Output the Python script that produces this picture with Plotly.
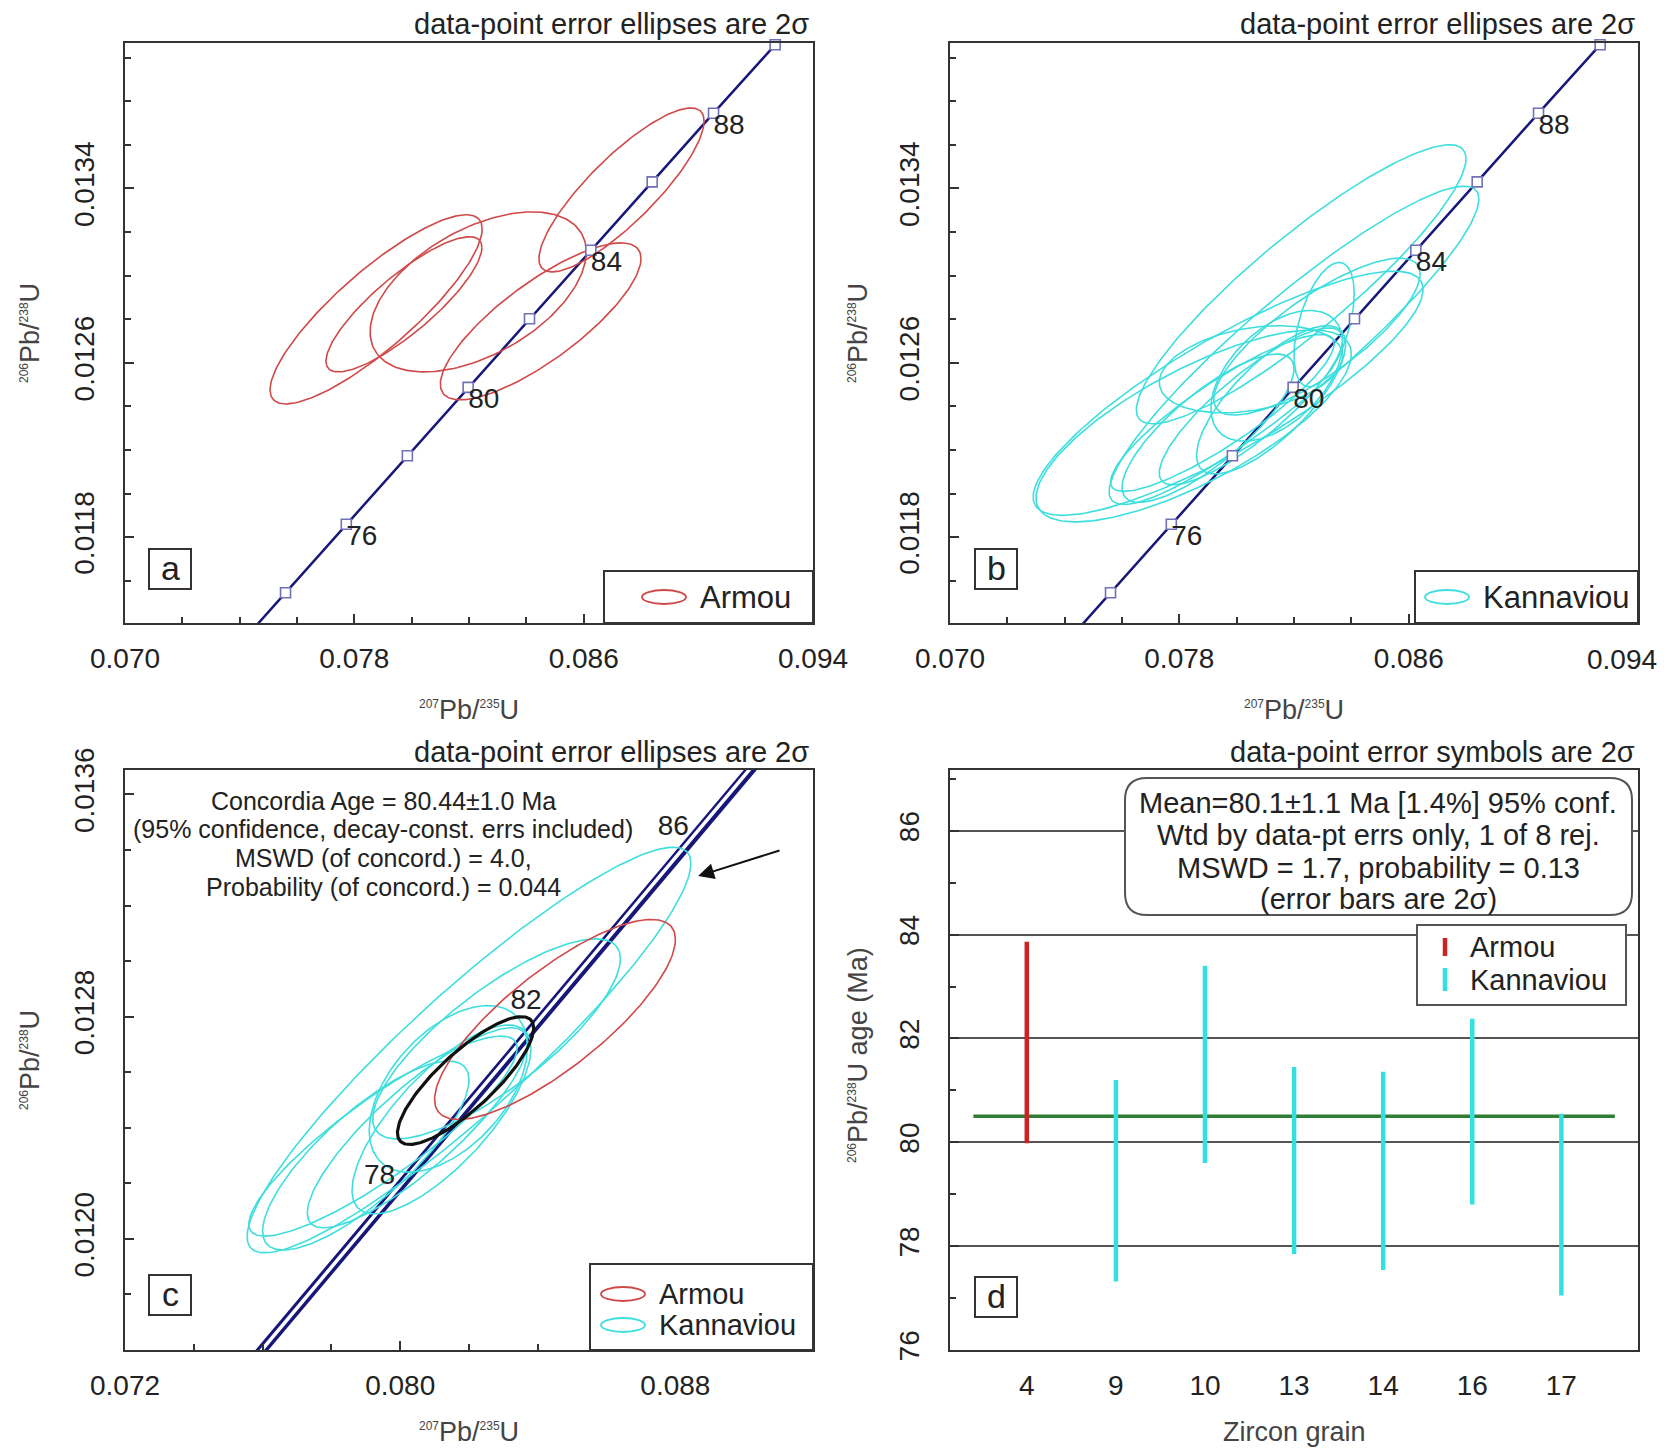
import numpy as np
import plotly.graph_objects as go

W, H = 1665, 1450
FONT = "Liberation Sans, Arial, Helvetica, sans-serif"

# ---------------- data ----------------
# concordia points (age in Ma, 207Pb/235U, 206Pb/238U)
conc_age = [72, 74, 76, 78, 80, 82, 84, 86, 88, 90, 92]
conc_x207 = [0.07348, 0.07560, 0.07772, 0.07985, 0.08197, 0.08411, 0.08625, 0.08839, 0.09053, 0.09268, 0.09484]
conc_y206 = [0.011232, 0.011545, 0.011859, 0.012173, 0.012487, 0.012802, 0.013116, 0.013430, 0.013745, 0.014059, 0.014374]
marker_ages = [74, 76, 78, 80, 82, 84, 86, 88, 90]
label_ages_ab = [76, 80, 84, 88]
label_ages_c = [78, 82, 86]

# tick labels
x_ticks_ab = [0.070, 0.078, 0.086, 0.094]
x_ticks_c = [0.072, 0.080, 0.088]

# Armou error ellipses (panel a): centre, 2-sigma half widths, correlation
armou_cx = [0.07876, 0.07973, 0.08232, 0.08732, 0.08450]
armou_cy = [0.012845, 0.012868, 0.012925, 0.013393, 0.012790]
armou_hx = [0.00370, 0.00272, 0.00377, 0.00288, 0.00350]
armou_hy = [0.000434, 0.000310, 0.000367, 0.000376, 0.000360]
armou_rho = [0.85, 0.84, 0.50, 0.84, 0.80]
armou_in_c = [4]          # index of the Armou ellipse used in panel c

# Kannaviou error ellipses (panel b)
kann_cx = [0.08200, 0.08280, 0.08140, 0.07950, 0.07900, 0.08050, 0.08120, 0.08225, 0.07970, 0.07850, 0.08050, 0.08305]
kann_cy = [0.012680, 0.012720, 0.012540, 0.012370, 0.012300, 0.012400, 0.012430, 0.012960, 0.012460, 0.012310, 0.012570, 0.012775]
kann_hx = [0.00645, 0.00360, 0.00230, 0.00390, 0.00300, 0.00320, 0.00260, 0.00575, 0.00680, 0.00550, 0.00320, 0.00105]
kann_hy = [0.00073, 0.00036, 0.00030, 0.00036, 0.00034, 0.00036, 0.00034, 0.00064, 0.00056, 0.00044, 0.00020, 0.000285]
kann_rho = [0.92, 0.80, 0.50, 0.88, 0.80, 0.85, 0.75, 0.90, 0.85, 0.75, 0.30, 0.50]
kann_in_c = [0, 1, 2, 3, 4, 5, 6]

# concordia age ellipse (panel c)
cage_cx, cage_cy, cage_hx, cage_hy, cage_rho = 0.08190, 0.012570, 0.00198, 0.000230, 0.82

# weighted mean panel d
grains = ["4", "9", "10", "13", "14", "16", "17"]
grain_unit = ["Armou", "Kannaviou", "Kannaviou", "Kannaviou", "Kannaviou", "Kannaviou", "Kannaviou"]
age_mid = [81.92, 79.26, 81.50, 79.65, 79.45, 80.59, 78.80]
age_err = [1.94, 1.94, 1.90, 1.80, 1.91, 1.79, 1.75]
mean_line_age = 80.5

# ---------------- styles ----------------
RED = "#d04848"
CYAN = "#3edede"
NAVY = "#17177a"
TXT = "#222222"
FRAME = "#333333"


def ell(cx, cy, hx, hy, r, n=200):
    t = np.linspace(0, 2 * np.pi, n)
    x = cx + hx * np.cos(t)
    y = cy + hy * (r * np.cos(t) + np.sqrt(1 - r * r) * np.sin(t))
    return list(x), list(y)


def ell_group(idx, cx, cy, hx, hy, rho):
    xs, ys = [], []
    for i in idx:
        x, y = ell(cx[i], cy[i], hx[i], hy[i], rho[i])
        xs += x + [None]
        ys += y + [None]
    return xs, ys


def px(x):
    return x / W


def py(y):
    return 1 - y / H


fig = go.Figure()

# frames in pixels: a,c left=125..813 ; b,d 950..1638 ; rows 43..623 / 770..1350
dom_x_left = [px(125), px(813)]
dom_x_right = [px(950), px(1638)]
dom_y_top = [py(623), py(43)]
dom_y_bot = [py(1350), py(770)]

m_idx = [conc_age.index(a) for a in marker_ages]
l_idx_ab = [conc_age.index(a) for a in label_ages_ab]
l_idx_c = [conc_age.index(a) for a in label_ages_c]

# ---- panels a and b ----
for xa, ya, grp in [("x", "y", "a"), ("x2", "y2", "b")]:
    fig.add_trace(go.Scatter(x=conc_x207, y=conc_y206, mode="lines", line=dict(color=NAVY, width=2.5),
                             xaxis=xa, yaxis=ya, showlegend=False, hoverinfo="skip"))
    if grp == "a":
        ex, ey = ell_group(range(len(armou_cx)), armou_cx, armou_cy, armou_hx, armou_hy, armou_rho)
        col = RED
    else:
        ex, ey = ell_group(range(len(kann_cx)), kann_cx, kann_cy, kann_hx, kann_hy, kann_rho)
        col = CYAN
    fig.add_trace(go.Scatter(x=ex, y=ey, mode="lines", line=dict(color=col, width=1.6),
                             xaxis=xa, yaxis=ya, showlegend=False, hoverinfo="skip"))
    fig.add_trace(go.Scatter(x=[conc_x207[i] for i in m_idx], y=[conc_y206[i] for i in m_idx], mode="markers",
                             marker=dict(symbol="square", size=10, color="white",
                                         line=dict(color="#7070b8", width=1.6)),
                             xaxis=xa, yaxis=ya, showlegend=False, cliponaxis=False, hoverinfo="skip"))
    fig.add_trace(go.Scatter(x=[conc_x207[i] for i in l_idx_ab], y=[conc_y206[i] for i in l_idx_ab],
                             mode="text", text=[str(a) for a in label_ages_ab], textposition="bottom right",
                             textfont=dict(size=28, color=TXT, family=FONT),
                             xaxis=xa, yaxis=ya, showlegend=False, cliponaxis=False, hoverinfo="skip"))

# ---- panel c ----
fig.add_trace(go.Scatter(x=conc_x207, y=conc_y206, mode="lines", line=dict(color=NAVY, width=10),
                         xaxis="x3", yaxis="y3", showlegend=False, hoverinfo="skip"))
fig.add_trace(go.Scatter(x=conc_x207, y=conc_y206, mode="lines", line=dict(color="white", width=3.5),
                         xaxis="x3", yaxis="y3", showlegend=False, hoverinfo="skip"))
ex, ey = ell_group(kann_in_c, kann_cx, kann_cy, kann_hx, kann_hy, kann_rho)
fig.add_trace(go.Scatter(x=ex, y=ey, mode="lines", line=dict(color=CYAN, width=1.6),
                         xaxis="x3", yaxis="y3", showlegend=False, hoverinfo="skip"))
ex, ey = ell_group(armou_in_c, armou_cx, armou_cy, armou_hx, armou_hy, armou_rho)
fig.add_trace(go.Scatter(x=ex, y=ey, mode="lines", line=dict(color=RED, width=1.6),
                         xaxis="x3", yaxis="y3", showlegend=False, hoverinfo="skip"))
bx, by = ell(cage_cx, cage_cy, cage_hx, cage_hy, cage_rho)
fig.add_trace(go.Scatter(x=bx, y=by, mode="lines", line=dict(color="#111111", width=3.2),
                         xaxis="x3", yaxis="y3", showlegend=False, hoverinfo="skip"))
fig.add_trace(go.Scatter(x=[conc_x207[i] for i in l_idx_c], y=[conc_y206[i] for i in l_idx_c],
                         mode="text", text=[str(a) for a in label_ages_c], textposition="top left",
                         textfont=dict(size=28, color=TXT, family=FONT),
                         xaxis="x3", yaxis="y3", showlegend=False, cliponaxis=False, hoverinfo="skip"))

# ---- panel d ----
xpos = list(range(len(grains)))
fig.add_trace(go.Scatter(x=[xpos[0] - 0.6, xpos[-1] + 0.6], y=[mean_line_age, mean_line_age], mode="lines",
                         line=dict(color="#2f7d32", width=3.5), xaxis="x4", yaxis="y4",
                         showlegend=False, hoverinfo="skip"))
for unit, col in [("Armou", "#cc2222"), ("Kannaviou", "#33e0e0")]:
    ii = [i for i, u in enumerate(grain_unit) if u == unit]
    fig.add_trace(go.Scatter(x=[xpos[i] for i in ii], y=[age_mid[i] for i in ii], mode="markers",
                             marker=dict(size=1, color="rgba(0,0,0,0)"),
                             error_y=dict(type="data", array=[age_err[i] for i in ii], color=col,
                                          thickness=4.5, width=0),
                             xaxis="x4", yaxis="y4", showlegend=False, hoverinfo="skip"))

# ---------------- axes ----------------
tickfont = dict(size=28, color=TXT, family=FONT)


def ax_common(**kw):
    d = dict(showline=True, mirror=True, linecolor=FRAME, linewidth=2, showgrid=False, zeroline=False,
             ticks="inside", ticklen=9, tickwidth=1.5, tickcolor=FRAME, tickfont=tickfont, automargin=False)
    d.update(kw)
    return d


xminor = dict(dtick=0.002, ticks="inside", ticklen=6, tickcolor=FRAME)
yminor = dict(dtick=0.0002, ticks="inside", ticklen=6, tickcolor=FRAME)
yab = dict(range=[0.011406, 0.014067], tick0=0.0118, dtick=0.0008, tickformat=".4f", tickangle=-90,
           ticklabelstandoff=18, minor=yminor)

fig.update_layout(
    xaxis=ax_common(domain=dom_x_left, anchor="y", range=[0.070, 0.094], tickvals=x_ticks_ab,
                    ticktext=["%.3f" % v for v in x_ticks_ab], ticklabelstandoff=9, minor=xminor),
    yaxis=ax_common(domain=dom_y_top, anchor="x", **yab),
    xaxis2=ax_common(domain=dom_x_right, anchor="y2", range=[0.070, 0.094], tickvals=x_ticks_ab,
                     ticktext=["%.3f" % v for v in x_ticks_ab[:-1]] + [""], ticklabelstandoff=9, minor=xminor),
    yaxis2=ax_common(domain=dom_y_top, anchor="x2", **yab),
    xaxis3=ax_common(domain=dom_x_left, anchor="y3", range=[0.072, 0.092], tickvals=x_ticks_c,
                     ticktext=["%.3f" % v for v in x_ticks_c], ticklabelstandoff=9, minor=xminor),
    yaxis3=ax_common(domain=dom_y_bot, anchor="x3", range=[0.0116, 0.013688], tick0=0.0120, dtick=0.0008,
                     tickformat=".4f", tickangle=-90, ticklabelstandoff=18, minor=yminor),
    xaxis4=ax_common(domain=dom_x_right, anchor="y4", range=[-0.862, 6.86], tickvals=xpos, ticktext=grains,
                     ticks="", ticklabelstandoff=9),
    yaxis4=ax_common(domain=dom_y_bot, anchor="x4", range=[76, 87.17], tick0=76, dtick=2, tickangle=-90,
                     ticklabelstandoff=18, showgrid=True, gridcolor="#555555", gridwidth=1.5,
                     minor=dict(dtick=1, ticks="inside", ticklen=6, tickcolor=FRAME)),
)

# ---------------- annotations & decorations ----------------
ann = []
shapes = []


def text(x, y, s, size=28, xanchor="center", color=TXT, angle=0):
    ann.append(dict(x=px(x), y=py(y), xref="paper", yref="paper", text=s, showarrow=False, xanchor=xanchor,
                    yanchor="middle", textangle=angle, font=dict(size=size, color=color, family=FONT)))


# last tick label of panel b, kept inside the page as in the original
text(1659, 659, "%.3f" % x_ticks_ab[-1], size=28, xanchor="right")

SUP = '<sup><span style="font-size:12px">%s</span></sup>'
xtitle = SUP % "207" + "Pb/" + SUP % "235" + "U"
ytitle = SUP % "206" + "Pb/" + SUP % "238" + "U"

# titles above frames
for xr, yt, s in [(811, 24, "data-point error ellipses are 2σ"), (1637, 24, "data-point error ellipses are 2σ"),
                  (811, 752, "data-point error ellipses are 2σ"), (1637, 752, "data-point error symbols are 2σ")]:
    text(xr, yt, s, size=29, xanchor="right")

# axis titles
text(469, 710, xtitle, size=27, color="#444444")
text(1294, 710, xtitle, size=27, color="#444444")
text(469, 1432, xtitle, size=27, color="#444444")
text(1294, 1432, "Zircon grain", size=27, color="#444444")
text(30, 333, ytitle, size=27, color="#444444", angle=-90)
text(858, 333, ytitle, size=27, color="#444444", angle=-90)
text(30, 1060, ytitle, size=27, color="#444444", angle=-90)
text(858, 1055, ytitle + " age (Ma)", size=27, color="#444444", angle=-90)

# panel letters
for (x0, y0, letter) in [(149, 549, "a"), (975, 549, "b"), (149, 1275, "c"), (975, 1277, "d")]:
    shapes.append(dict(type="rect", xref="paper", yref="paper", x0=px(x0), x1=px(x0 + 42), y0=py(y0 + 40),
                       y1=py(y0), line=dict(color=FRAME, width=2), fillcolor="white", layer="above"))
    text(x0 + 21, y0 + 19, letter, size=34)

# legends a, b, c
for (bx0, bx1, by0, by1, iconx, items) in [
    (604, 813, 571, 623, 642, [(RED, "Armou", 597)]),
    (1415, 1638, 571, 623, 1425, [(CYAN, "Kannaviou", 597)]),
    (590, 813, 1264, 1350, 601, [(RED, "Armou", 1294), (CYAN, "Kannaviou", 1325)]),
]:
    shapes.append(dict(type="rect", xref="paper", yref="paper", x0=px(bx0), x1=px(bx1), y0=py(by1), y1=py(by0),
                       line=dict(color=FRAME, width=2), fillcolor="white", layer="above"))
    for col, lab, yc in items:
        shapes.append(dict(type="circle", xref="paper", yref="paper", x0=px(iconx), x1=px(iconx + 44),
                           y0=py(yc + 7), y1=py(yc - 7), line=dict(color=col, width=1.8), layer="above"))
        text(iconx + 56, yc, lab, size=29 if len(items) > 1 else 31, xanchor="left")

# legend d
shapes.append(dict(type="rect", xref="paper", yref="paper", x0=px(1417), x1=px(1626), y0=py(1005), y1=py(925),
                   line=dict(color="#555555", width=2), fillcolor="white", layer="above"))
for col, lab, y0, y1 in [("#cc2222", "Armou", 938, 956), ("#33e0e0", "Kannaviou", 968, 991)]:
    shapes.append(dict(type="line", xref="paper", yref="paper", x0=px(1445), x1=px(1445), y0=py(y1), y1=py(y0),
                       line=dict(color=col, width=4.5), layer="above"))
    text(1468, (y0 + y1) / 2, lab, size=29, xanchor="left")

# rounded info box d
X0, X1, Y0, Y1, R = px(1125), px(1632), py(915), py(778), 22
rx, ry = R / W, R / H
path = (f"M {X0+rx},{Y1} L {X1-rx},{Y1} Q {X1},{Y1} {X1},{Y1-ry} L {X1},{Y0+ry} Q {X1},{Y0} {X1-rx},{Y0} "
        f"L {X0+rx},{Y0} Q {X0},{Y0} {X0},{Y0+ry} L {X0},{Y1-ry} Q {X0},{Y1} {X0+rx},{Y1} Z")
shapes.append(dict(type="path", xref="paper", yref="paper", path=path, line=dict(color="#555555", width=2),
                   fillcolor="white", layer="above"))
for s, yy in [("Mean=80.1±1.1 Ma [1.4%] 95% conf.", 803), ("Wtd by data-pt errs only, 1 of 8 rej.", 835),
              ("MSWD = 1.7, probability = 0.13", 868), ("(error bars are 2σ)", 899)]:
    text(1378, yy, s, size=29)

# panel c text block
for s, yy in [("Concordia Age = 80.44±1.0 Ma", 801), ("(95% confidence, decay-const. errs included)", 829),
              ("MSWD (of concord.) = 4.0,", 858), ("Probability (of concord.) = 0.044", 887)]:
    text(383, yy, s, size=25)

# arrow in panel c
ann.append(dict(x=0.08866, y=0.013306, xref="x3", yref="y3", ax=0.09107, ay=0.01340, axref="x3", ayref="y3",
                showarrow=True, arrowhead=2, arrowsize=1.6, arrowwidth=2, arrowcolor="#111111", text=""))

fig.update_layout(width=W, height=H, autosize=False, margin=dict(l=0, r=0, t=0, b=0, autoexpand=False),
                  paper_bgcolor="white", plot_bgcolor="white", annotations=ann, shapes=shapes,
                  font=dict(family=FONT, color=TXT))

fig.write_html("out.html", config={"displayModeBar": False},
               post_script="document.body.style.margin='0px';document.body.style.overflow='hidden';")
